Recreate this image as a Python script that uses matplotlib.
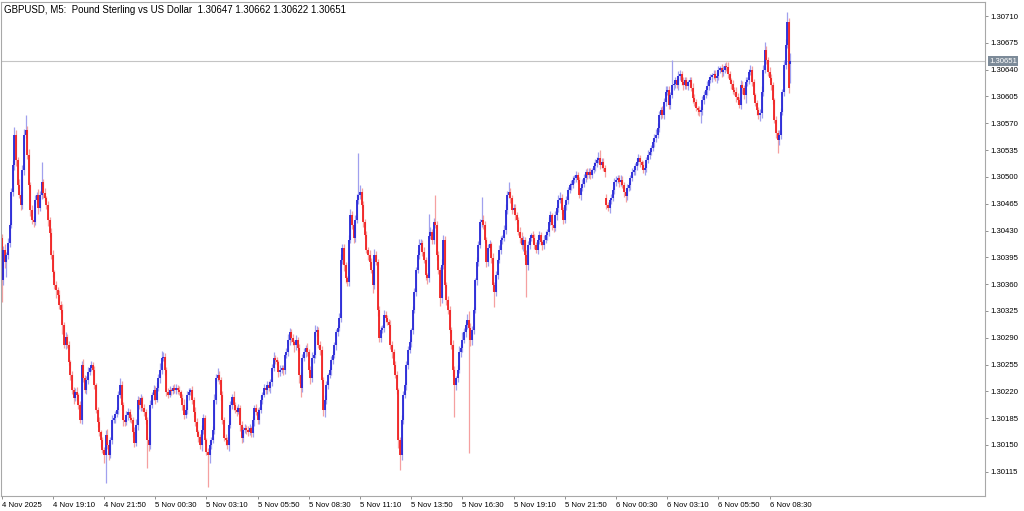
import numpy as np
import matplotlib
matplotlib.use("Agg")
from matplotlib import pyplot as plt
from matplotlib import transforms

# GBPUSD M5, prices kept as points above 1.30000
title_text = "GBPUSD, M5:  Pound Sterling vs US Dollar  1.30647 1.30662 1.30622 1.30651"
base_price = 1.3
point = 0.00001

closes = [
    365, 405, 389, 398, 414, 437, 480, 515, 555, 522, 489, 476, 463, 509, 555, 561, 529, 489, 457, 444,
    441, 470, 476, 459, 476, 493, 479, 472, 463, 444, 427, 398, 376, 359, 352, 346, 333, 326, 307, 281,
    291, 281, 258, 241, 222, 211, 219, 215, 202, 183, 254, 237, 222, 235, 245, 250, 254, 248, 228, 196,
    180, 167, 156, 143, 137, 163, 150, 137, 156, 183, 185, 190, 196, 215, 228, 202, 183, 180, 189, 193,
    185, 183, 167, 153, 176, 209, 202, 211, 198, 193, 183, 156, 150, 202, 215, 222, 209, 224, 237, 248,
    263, 265, 248, 219, 215, 222, 221, 224, 222, 224, 222, 219, 211, 202, 189, 196, 215, 219, 222, 209,
    193, 180, 167, 160, 150, 170, 185, 156, 141, 137, 150, 156, 170, 209, 237, 241, 235, 215, 183, 159,
    156, 150, 176, 202, 213, 202, 196, 193, 198, 176, 159, 170, 172, 170, 167, 172, 166, 183, 198, 193,
    183, 196, 209, 215, 224, 222, 228, 224, 232, 250, 263, 261, 258, 245, 248, 250, 248, 267, 271, 287,
    297, 290, 284, 280, 287, 277, 241, 224, 263, 271, 277, 271, 248, 237, 263, 267, 297, 300, 280, 274,
    235, 196, 209, 228, 241, 248, 261, 267, 280, 297, 303, 316, 391, 407, 385, 368, 363, 418, 450, 437,
    420, 444, 470, 476, 480, 463, 441, 424, 405, 398, 389, 378, 359, 398, 389, 326, 290, 300, 303, 320,
    316, 311, 307, 281, 271, 254, 241, 222, 156, 137, 183, 215, 228, 254, 274, 284, 300, 326, 350, 378,
    398, 411, 414, 402, 391, 372, 368, 423, 428, 418, 441, 437, 398, 378, 342, 385, 418, 359, 339, 326,
    300, 281, 248, 228, 237, 248, 271, 277, 287, 297, 307, 313, 303, 287, 300, 326, 365, 389, 411, 441,
    444, 437, 418, 389, 407, 412, 394, 359, 350, 372, 391, 405, 418, 420, 431, 457, 476, 480, 472, 457,
    459, 450, 444, 428, 420, 411, 418, 398, 385, 411, 420, 424, 420, 411, 405, 418, 424, 415, 411, 418,
    424, 428, 441, 450, 437, 433, 450, 459, 470, 472, 457, 444, 463, 470, 483, 489, 490, 496, 499, 502,
    496, 476, 486, 491, 499, 506, 502, 507, 503, 509, 514, 518, 522, 525, 516, 519, 512, 506, 463, 459,
    470, 472, 483, 493, 496, 499, 493, 496, 489, 480, 475, 486, 489, 499, 506, 509, 514, 519, 525, 519,
    515, 509, 512, 522, 529, 533, 538, 545, 551, 555, 564, 581, 587, 581, 598, 611, 613, 594, 607, 620,
    621, 626, 620, 632, 634, 624, 620, 626, 619, 624, 626, 616, 603, 598, 590, 587, 585, 587, 600, 607,
    613, 619, 626, 630, 633, 634, 629, 632, 640, 642, 637, 640, 645, 644, 634, 626, 621, 613, 611, 604,
    600, 594, 620, 616, 607, 624, 626, 637, 640, 624, 607, 596, 587, 581, 583, 611, 640, 666, 653, 637,
    629, 620, 600, 574, 557, 548, 555, 585, 611, 646, 672, 702, 616, 651,
]

# wick lengths above / below the body, in points
upper_wicks = [
    6, 5, 8, 4, 6, 3, 5, 7, 10, 6, 4, 8, 5, 6, 8, 20, 5, 7, 4, 6,
    5, 6, 4, 8, 5, 26, 4, 6, 3, 5, 4, 6, 7, 3, 5, 4, 6, 5, 8, 4,
    6, 4, 5, 3, 6, 4, 5, 7, 3, 5, 6, 8, 4, 5, 7, 3, 6, 4, 5, 3,
    4, 6, 3, 5, 4, 6, 8, 4, 5, 6, 3, 5, 4, 6, 9, 5, 4, 3, 6, 5,
    4, 5, 3, 6, 8, 5, 4, 6, 3, 5, 4, 3, 5, 7, 4, 6, 5, 8, 6, 9,
    10, 6, 5, 4, 6, 5, 3, 4, 5, 6, 4, 5, 3, 6, 8, 4, 5, 6, 3, 5,
    4, 6, 5, 3, 4, 6, 5, 4, 3, 5, 6, 4, 5, 7, 6, 10, 5, 4, 6, 3,
    5, 4, 6, 5, 3, 8, 4, 5, 6, 4, 5, 3, 6, 4, 5, 6, 3, 5, 4, 6,
    5, 3, 6, 4, 5, 3, 6, 5, 4, 6, 8, 5, 4, 3, 6, 5, 4, 5, 6, 8,
    6, 4, 5, 3, 6, 4, 5, 4, 6, 5, 3, 6, 4, 5, 8, 6, 10, 5, 4, 6,
    5, 4, 6, 5, 3, 4, 5, 6, 4, 5, 3, 6, 8, 6, 5, 4, 3, 6, 8, 5,
    4, 6, 8, 55, 10, 5, 6, 4, 5, 3, 6, 5, 4, 8, 5, 4, 6, 5, 3, 6,
    5, 4, 3, 6, 5, 4, 6, 5, 3, 4, 6, 5, 4, 6, 5, 4, 3, 6, 5, 4,
    6, 8, 5, 4, 6, 5, 3, 28, 6, 4, 5, 35, 6, 5, 4, 8, 6, 5, 4, 6,
    5, 4, 6, 5, 3, 6, 8, 5, 10, 6, 5, 8, 12, 6, 5, 4, 3, 6, 5, 4,
    30, 6, 5, 4, 6, 5, 3, 6, 4, 5, 3, 6, 5, 4, 6, 8, 6, 13, 5, 4,
    6, 5, 4, 3, 6, 8, 5, 4, 6, 5, 4, 3, 6, 5, 4, 6, 5, 4, 3, 6,
    5, 4, 6, 5, 3, 6, 5, 4, 6, 8, 5, 4, 6, 5, 4, 3, 6, 5, 4, 6,
    5, 4, 3, 6, 5, 4, 6, 5, 4, 3, 6, 5, 4, 8, 10, 6, 5, 4, 5, 4,
    3, 5, 4, 6, 5, 4, 3, 6, 5, 4, 6, 5, 4, 3, 6, 5, 4, 6, 5, 4,
    3, 6, 5, 4, 6, 5, 4, 6, 5, 8, 6, 5, 4, 6, 5, 8, 6, 5, 4, 33,
    6, 5, 4, 6, 5, 4, 6, 5, 4, 3, 5, 4, 6, 5, 4, 3, 5, 4, 6, 5,
    4, 6, 5, 4, 3, 5, 6, 4, 5, 3, 6, 5, 4, 5, 6, 4, 3, 5, 4, 6,
    5, 4, 6, 5, 4, 6, 5, 4, 6, 5, 4, 3, 5, 4, 6, 8, 6, 10, 5, 4,
    6, 5, 4, 3, 5, 4, 6, 5, 4, 6, 8, 13, 6, 11,
]
lower_wicks = [
    28, 6, 8, 20, 5, 6, 4, 5, 6, 8, 5, 4, 6, 5, 7, 4, 6, 5, 8, 6,
    6, 4, 5, 7, 3, 5, 6, 4, 5, 8, 6, 5, 7, 6, 10, 5, 6, 4, 12, 5,
    6, 5, 4, 6, 5, 8, 4, 6, 5, 4, 6, 5, 4, 6, 5, 4, 3, 6, 5, 4,
    6, 5, 8, 4, 10, 37, 5, 6, 4, 5, 4, 6, 3, 5, 4, 6, 8, 5, 4, 6,
    5, 4, 6, 5, 4, 6, 5, 8, 4, 5, 6, 36, 8, 5, 4, 6, 5, 3, 4, 6,
    5, 4, 6, 5, 4, 3, 6, 5, 4, 6, 5, 4, 3, 6, 5, 4, 5, 6, 4, 5,
    6, 5, 4, 6, 5, 8, 6, 5, 4, 42, 10, 5, 4, 6, 5, 4, 5, 6, 5, 4,
    6, 5, 8, 4, 5, 6, 4, 5, 3, 8, 6, 5, 4, 6, 5, 4, 6, 5, 8, 4,
    5, 6, 4, 5, 3, 6, 5, 4, 6, 5, 4, 5, 3, 6, 5, 4, 6, 5, 4, 5,
    6, 5, 4, 8, 6, 5, 10, 12, 5, 4, 6, 5, 4, 8, 5, 6, 4, 5, 3, 6,
    5, 8, 10, 6, 5, 4, 6, 5, 4, 6, 5, 4, 6, 5, 8, 6, 5, 6, 4, 5,
    6, 5, 4, 6, 5, 4, 6, 5, 4, 6, 5, 4, 10, 5, 4, 8, 6, 5, 4, 5,
    6, 5, 4, 6, 8, 5, 4, 6, 10, 20, 6, 5, 4, 6, 5, 4, 6, 5, 4, 5,
    4, 5, 6, 5, 4, 6, 8, 5, 4, 6, 5, 4, 6, 5, 10, 6, 5, 4, 6, 5,
    4, 6, 8, 42, 6, 5, 4, 6, 5, 4, 6, 5, 163, 8, 6, 5, 4, 6, 5, 4,
    6, 5, 4, 6, 5, 4, 6, 8, 20, 6, 5, 4, 6, 5, 4, 6, 5, 4, 6, 5,
    4, 6, 5, 4, 6, 5, 8, 6, 42, 6, 5, 4, 6, 5, 4, 6, 5, 4, 6, 5,
    4, 6, 5, 4, 6, 5, 4, 6, 5, 4, 6, 5, 4, 6, 5, 4, 6, 5, 4, 6,
    5, 4, 6, 5, 4, 6, 5, 4, 6, 5, 4, 6, 5, 4, 6, 5, 4, 6, 5, 4,
    6, 5, 4, 6, 5, 4, 6, 5, 4, 6, 8, 5, 4, 6, 5, 4, 6, 5, 4, 6,
    5, 4, 6, 5, 4, 6, 5, 4, 6, 5, 4, 6, 5, 4, 6, 5, 4, 6, 5, 4,
    6, 5, 4, 6, 5, 4, 6, 5, 4, 6, 5, 4, 6, 5, 4, 6, 5, 15, 6, 5,
    4, 6, 5, 4, 6, 5, 4, 6, 5, 4, 6, 5, 4, 6, 5, 4, 6, 5, 4, 6,
    5, 4, 6, 8, 5, 10, 6, 5, 4, 6, 5, 4, 6, 5, 8, 6, 5, 4, 6, 5,
    4, 6, 5, 4, 6, 17, 6, 5, 4, 6, 5, 4, 6, 25,
]

first_open = 420
gap_opens = {378: 472, 493: 647}   # bars that opened away from the previous close
last_price = 651

time_labels = ["4 Nov 2025", "4 Nov 19:10", "4 Nov 21:50", "5 Nov 00:30", "5 Nov 03:10",
               "5 Nov 05:50", "5 Nov 08:30", "5 Nov 11:10", "5 Nov 13:50", "5 Nov 16:30",
               "5 Nov 19:10", "5 Nov 21:50", "6 Nov 00:30", "6 Nov 03:10", "6 Nov 05:50",
               "6 Nov 08:30"]
bars_per_label = 32
price_ticks = [115, 150, 185, 220, 255, 290, 325, 360, 395, 430, 465, 500, 535, 570, 605, 640, 675, 710]

# build OHLC
opens = [first_open] + closes[:-1]
for k, v in gap_opens.items():
    opens[k] = v
o = base_price + np.array(opens) * point
c = base_price + np.array(closes) * point
hi = np.maximum(o, c) + np.array(upper_wicks) * point
lo = np.minimum(o, c) - np.array(lower_wicks) * point
x = np.arange(len(closes))
up = c >= o

bull, bear = "#2626d6", "#f02020"
bull_wick, bear_wick = "#a0a0ee", "#f5a0a0"

plt.rcParams['font.family'] = ['Liberation Sans', 'DejaVu Sans']
fig = plt.figure(figsize=(10.24, 5.11), dpi=100)
ax = fig.add_axes([1 / 1024, 15 / 511, 984 / 1024, 494 / 511])

ax.vlines(x, lo, hi, colors=np.where(up, bull_wick, bear_wick), linewidth=0.9)
body_lo = np.minimum(o, c)
body_hi = np.maximum(np.maximum(o, c), body_lo + 1.2 * point)
ax.vlines(x, body_lo, body_hi, colors=np.where(up, bull, bear), linewidth=1.3)

last_p = base_price + last_price * point
ax.axhline(last_p, color="#c4c4c4", linewidth=0.8, zorder=0)

ax.set_xlim(-0.4, -0.4 + 984 / 1.6)
ax.set_ylim(base_price + 83.4 * point, base_price + 728.3 * point)

ax.set_xticks([i * bars_per_label for i in range(len(time_labels))])
ax.set_xticklabels(time_labels, ha="left")
ax.set_yticks([base_price + p * point for p in price_ticks])
ax.set_yticklabels(["%.5f" % (base_price + p * point) for p in price_ticks])

ax.yaxis.tick_right()
ax.tick_params(axis="y", direction="out", length=2.5, width=0.6, color="#808080",
               labelsize=5.6, labelcolor="black", pad=1.2)
ax.tick_params(axis="x", direction="out", length=2.5, width=0.6, color="#808080",
               labelsize=5.6, labelcolor="black", pad=1.5)
for s in ax.spines.values():
    s.set_color("#a8a8a8")
    s.set_linewidth(0.8)

ax.text(0.003, 0.993, title_text, transform=ax.transAxes, ha="left", va="top",
        fontsize=7.0, color="black")

trans = transforms.blended_transform_factory(ax.transAxes, ax.transData)
ax.text(1.004, last_p, "%.5f" % last_p, transform=trans, ha="left", va="center",
        fontsize=5.6, color="white", clip_on=False,
        bbox=dict(boxstyle="square,pad=0.18", fc="#7d8b99", ec="none"))

fig.savefig("out.png", dpi=100, facecolor="white")
